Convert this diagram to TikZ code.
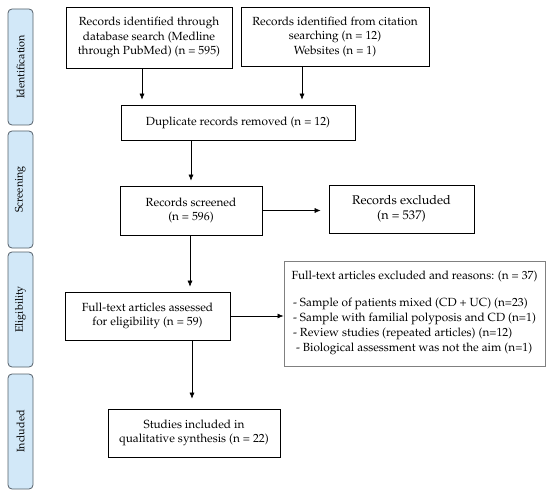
\documentclass[tikz,border=0pt]{standalone}
\usepackage[T1]{fontenc}
\usepackage{mathpazo}
\usepackage{tikz}
\usetikzlibrary{arrows.meta,positioning}
\definecolor{stagefill}{HTML}{D2E8F8}
\definecolor{stageline}{HTML}{55606A}

\begin{document}
\begin{tikzpicture}[
      x=1pt, y=-1pt,
      every node/.style={align=center, font=\fontsize{11.8}{14.5}\selectfont, inner sep=2pt},
      box/.style={draw, line width=0.7pt},
      stage/.style={draw=stageline, fill=stagefill, rounded corners=4pt, line width=0.8pt,
        minimum height=25pt, rotate=90, font=\fontsize{10.8}{12}\selectfont},
      flow/.style={-{Latex[length=6pt,width=5pt]}, line width=0.6pt, shorten >=5pt}
    ]
    \useasboundingbox (0,0) rectangle (550,495);
    % stage bars
    \node[stage, minimum width=116pt] (ident) at (20.5,67) {Identification};
    \node[stage, minimum width=117pt] (screen) at (20.5,189.5) {Screening};
    \node[stage, minimum width=115pt] (elig) at (20.5,309.5) {Eligibility};
    \node[stage, minimum width=115pt] (incl) at (20.5,431.5) {Included};
    % boxes
    \node[box, minimum width=166pt, minimum height=61pt] (dbase) at (149,37.5)
      {Records identified through\\database search (Medline\\through PubMed) (n = 595)};
    \node[box, minimum width=188pt, minimum height=59pt] (cite) at (335,36.5)
      {Records identified from citation\\searching (n = 12)\\Websites (n = 1)};
    \node[box, minimum width=234pt, minimum height=35pt] (dupl) at (238,122.5)
      {Duplicate records removed (n = 12)};
    \node[box, minimum width=142pt, minimum height=49pt] (screened) at (191,210.5)
      {Records screened\\(n = 596)};
    \node[box, minimum width=145pt, minimum height=48pt, font=\fontsize{12.6}{15}\selectfont] (excl) at (401.5,209)
      {Records excluded\\(n = 537)};
    \node[box, minimum width=165pt, minimum height=48pt] (full) at (147.5,316)
      {Full-text articles assessed\\for eligibility (n = 59)};
    \node[box, draw=gray, line width=1pt, minimum width=261pt, minimum height=105pt, font=\fontsize{11.8}{15}\selectfont] (reasons) at (414.5,313.5)
      {Full-text articles excluded and reasons: (n = 37)\\[13pt]
       \begin{tabular}{@{}l@{}}
       - Sample of patients mixed (CD + UC) (n=23)\\
       - Sample with familial polyposis and CD (n=1)\\
       - Review studies (repeated articles) (n=12)\\
       \ - Biological assessment was not the aim (n=1)
       \end{tabular}};
    \node[box, minimum width=172pt, minimum height=48pt] (studies) at (194,433)
      {Studies included in\\qualitative synthesis (n = 22)};
    % connectors
    \draw[flow] (dbase.south -| 142,0) -- (dupl.north -| 142,0);
    \draw[flow] (cite.south -| 302,0) -- (dupl.north -| 302,0);
    \draw[flow] (dupl.south -| 191,0) -- (screened.north -| 191,0);
    \draw[flow, shorten >=8pt] (screened.east) -- (screened.east -| excl.west);
    \draw[flow] (screened.south -| 190,0) -- (full.north -| 190,0);
    \draw[flow, shorten >=0pt] (full.east) -- (reasons.west |- full.east);
    \draw[flow, shorten >=10pt] (full.south -| 192,0) -- (studies.north -| 192,0);
  \end{tikzpicture}
\end{document}
